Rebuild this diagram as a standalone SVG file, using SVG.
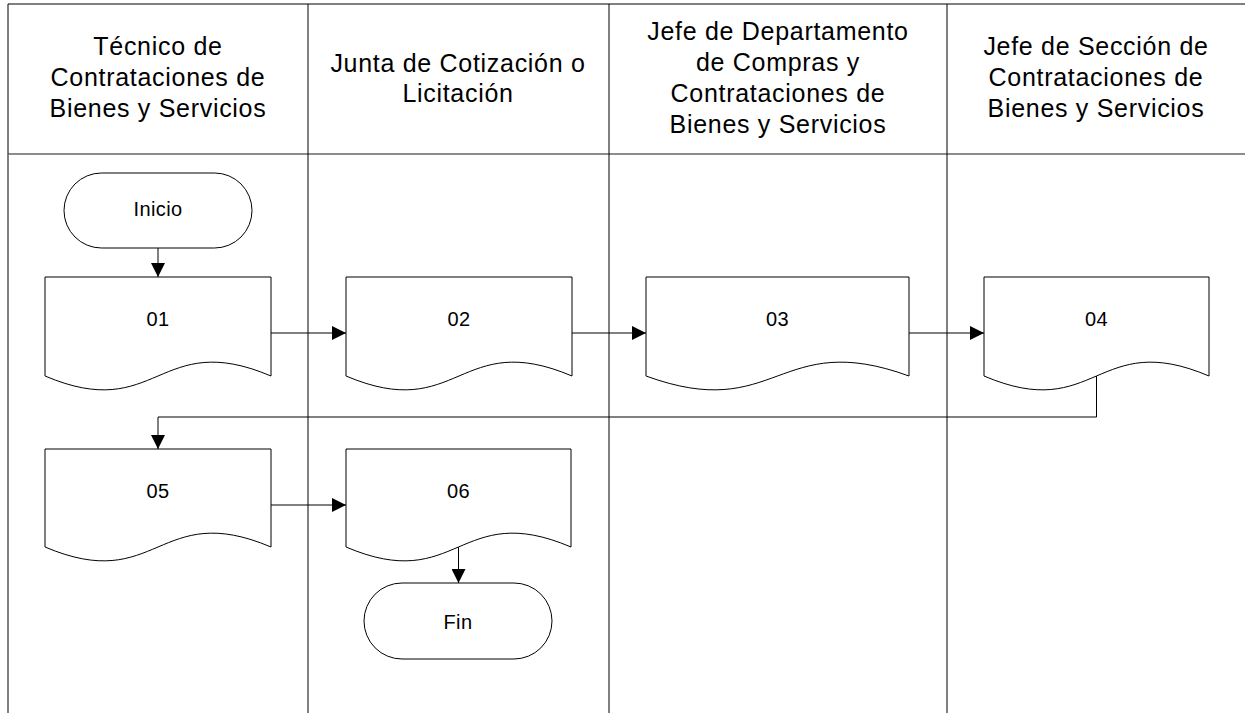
<svg xmlns="http://www.w3.org/2000/svg" width="1245" height="713" viewBox="0 0 1245 713">
<style>
.hdr{font-family:"Liberation Sans",Arial,sans-serif;font-size:25px;letter-spacing:0.7px;fill:#000;text-anchor:middle}
.lbl{font-family:"Liberation Sans",Arial,sans-serif;font-size:20px;letter-spacing:0.4px;fill:#000;text-anchor:middle}
.shape{fill:#fff;stroke:#000;stroke-width:1}
.conn{fill:none;stroke:#000;stroke-width:1}
.grid{stroke:#000;stroke-width:1;fill:none}
</style>
<defs>
<marker id="arr" markerUnits="userSpaceOnUse" markerWidth="14" markerHeight="14" refX="14" refY="7" orient="auto" viewBox="0 0 14 14">
<path d="M0,0 L14,7 L0,14 Z" fill="#000"/>
</marker>
</defs>
<rect width="1245" height="713" fill="#fff"/>
<g id="lanes">
<line class="grid" x1="8" y1="4" x2="1245" y2="4" stroke="#333"/>
<line class="grid" x1="8" y1="154" x2="1245" y2="154" style="stroke:#666;stroke-width:1.5"/>
<line class="grid" x1="8" y1="4" x2="8" y2="154"/>
<line class="grid" x1="8" y1="154" x2="8" y2="713" style="stroke:#808080;stroke-width:2"/>
<line class="grid" x1="308" y1="4" x2="308" y2="713"/>
<line class="grid" x1="609" y1="4" x2="609" y2="713"/>
<line class="grid" x1="947" y1="4" x2="947" y2="713"/>
<text class="hdr"><tspan x="158" y="55">Técnico de</tspan><tspan x="158" y="86">Contrataciones de</tspan><tspan x="158" y="117">Bienes y Servicios</tspan></text>
<text class="hdr"><tspan x="458" y="72">Junta de Cotización o</tspan><tspan x="458" y="102">Licitación</tspan></text>
<text class="hdr"><tspan x="778" y="40">Jefe de Departamento</tspan><tspan x="778" y="71">de Compras y</tspan><tspan x="778" y="102">Contrataciones de</tspan><tspan x="778" y="133">Bienes y Servicios</tspan></text>
<text class="hdr"><tspan x="1096" y="55">Jefe de Sección de</tspan><tspan x="1096" y="86">Contrataciones de</tspan><tspan x="1096" y="117">Bienes y Servicios</tspan></text>
</g>
<g id="connectors">
<path class="conn" d="M158,248 V277" marker-end="url(#arr)"/>
<path class="conn" d="M271,333 H346" marker-end="url(#arr)"/>
<path class="conn" d="M572,333 H646" marker-end="url(#arr)"/>
<path class="conn" d="M909,333 H984" marker-end="url(#arr)"/>
<path class="conn" d="M1096.5,376 V417 H158 V449" marker-end="url(#arr)"/>
<path class="conn" d="M271,505 H346" marker-end="url(#arr)"/>
<path class="conn" d="M458.5,547 V583" marker-end="url(#arr)"/>
</g>
<g id="inicio">
<rect class="shape" x="64" y="173" width="188" height="75" rx="37.5" ry="37.5"/>
<text class="lbl" x="158" y="216">Inicio</text>
</g>
<g id="n01">
<path class="shape" d="M45,277 H271 V376 C158,328 158,424 45,376 Z"/>
<text class="lbl" x="158" y="326">01</text>
</g>
<g id="n02">
<path class="shape" d="M346,277 H572 V376 C459,328 459,424 346,376 Z"/>
<text class="lbl" x="459" y="326">02</text>
</g>
<g id="n03">
<path class="shape" d="M646,277 H909 V376 C777.5,328 777.5,424 646,376 Z"/>
<text class="lbl" x="777.5" y="326">03</text>
</g>
<g id="n04">
<path class="shape" d="M984,277 H1209 V376 C1096.5,328 1096.5,424 984,376 Z"/>
<text class="lbl" x="1096.5" y="326">04</text>
</g>
<g id="n05">
<path class="shape" d="M45,449 H271 V547 C158,499 158,595 45,547 Z"/>
<text class="lbl" x="158" y="498">05</text>
</g>
<g id="n06">
<path class="shape" d="M346,449 H571 V547 C458.5,499 458.5,595 346,547 Z"/>
<text class="lbl" x="458.5" y="498">06</text>
</g>
<g id="fin">
<rect class="shape" x="364" y="583" width="188" height="76" rx="38" ry="38"/>
<text class="lbl" x="458" y="629">Fin</text>
</g>
</svg>
